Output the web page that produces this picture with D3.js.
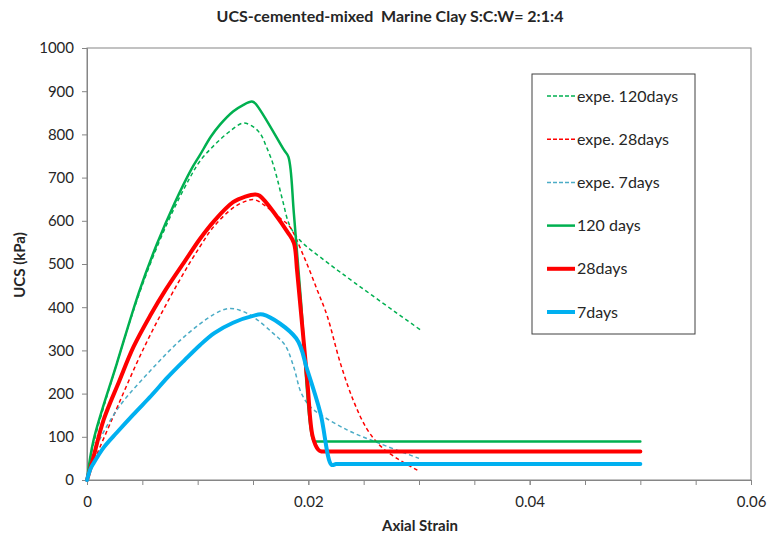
<!DOCTYPE html>
<html>
<head>
<meta charset="utf-8">
<script src="https://cdn.jsdelivr.net/npm/d3@7"></script>
<style>
  body { margin: 0; background: #fff; }
  text { font-family: Lato, "Open Sans", sans-serif; fill: #262626; }
</style>
</head>
<body>
<div id="chart-area"></div>
<script>
// series data: [axial strain, UCS kPa]
var expe120 = [[0,0],[0.0005,75],[0.0027,270],[0.0047,430],[0.0065,550],[0.0079,630],[0.0092,695],[0.0102,738],[0.0115,775],[0.0128,805],[0.0141,826],[0.015,818],[0.0157,800],[0.0162,772],[0.0167,740],[0.0171,706],[0.0177,645],[0.0183,590],[0.0192,556],[0.022,498],[0.0301,348]];
var expe28 = [[0,0],[0.0005,35],[0.0021,131],[0.0052,309],[0.0082,455],[0.0102,540],[0.0115,588],[0.0132,630],[0.0143,645],[0.0151,649],[0.0162,633],[0.0175,605],[0.0183,587],[0.0196,517],[0.0208,440],[0.0217,380],[0.0229,270],[0.0241,182],[0.0253,118],[0.0265,79],[0.028,50],[0.0299,22]];
var expe7 = [[0,0],[0.0006,62],[0.0027,162],[0.0058,255],[0.0088,332],[0.0115,384],[0.0128,397],[0.0138,393],[0.015,378],[0.0168,340],[0.0179,312],[0.0187,260],[0.0193,205],[0.0199,178],[0.0206,160],[0.0235,116],[0.0265,84],[0.0300,50]];
var d120 = [[0,0],[0.0006,93],[0.0027,270],[0.0047,435],[0.0063,545],[0.0079,640],[0.0094,718],[0.0102,752],[0.0112,795],[0.012,822],[0.0132,853],[0.0141,868],[0.0149,876],[0.0152,872],[0.0178,764],[0.0182,748],[0.0187,615],[0.0193,425],[0.0205,89],[0.0207,89],[0.025,89],[0.05,89]];
var d28 = [[0,0],[0.0005,45],[0.0015,139],[0.0029,228],[0.0042,308],[0.0057,380],[0.0071,440],[0.0088,505],[0.0102,558],[0.0115,600],[0.0132,643],[0.0143,656],[0.0152,661],[0.0156,658],[0.0182,571],[0.0187,548],[0.019,480],[0.0199,231],[0.0204,100],[0.0209,70],[0.0212,66],[0.0216,66],[0.025,66],[0.05,66]];
var d7 = [[0,0],[0.0003,25],[0.0006,39],[0.0015,75],[0.0027,110],[0.0042,152],[0.0058,195],[0.0073,238],[0.0088,277],[0.0102,312],[0.0115,340],[0.0132,364],[0.015,380],[0.0159,383],[0.0189,328],[0.0199,255],[0.0211,154],[0.0221,35],[0.0225,37],[0.0229,37],[0.026,37],[0.05,37]];

var seriesNames = ["expe. 120days", "expe. 28days", "expe. 7days", "120 days", "28days", "7days"];
var seriesColors = ["#00B050", "#FF0000", "#4BACC6", "#00B050", "#FF0000", "#00B0F0"];
var seriesData = [expe120, expe28, expe7, d120, d28, d7];
var dashed = [true, true, true, false, false, false];
var widths = [1.5, 1.5, 1.5, 2.5, 4, 4];

var xTicks = [0, 0.02, 0.04, 0.06];
var yTicks = [0, 100, 200, 300, 400, 500, 600, 700, 800, 900, 1000];

(function () {
    var width = 767, height = 536;
    var mLeft = 87, mRight = 751, mTop = 48, mBottom = 480;

    var svg = d3.select("#chart-area").append("svg")
        .attr("width", width)
        .attr("height", height);

    var x = d3.scaleLinear().domain([0, 0.06]).range([mLeft, mRight]);
    var y = d3.scaleLinear().domain([0, 1000]).range([mBottom, mTop]);

    // plot frame
    svg.append("rect")
        .attr("x", mLeft).attr("y", mTop)
        .attr("width", mRight - mLeft).attr("height", mBottom - mTop)
        .attr("fill", "none")
        .attr("stroke", "#868686")
        .attr("stroke-width", 1);

    // minor x ticks
    svg.append("g")
        .attr("transform", "translate(0," + mBottom + ")")
        .call(d3.axisBottom(x).tickValues(d3.range(0, 0.0601, 0.005)).tickSize(5).tickFormat(""))
        .call(function (g) {
            g.select(".domain").attr("stroke", "#868686");
            g.selectAll("line").attr("stroke", "#868686");
        });

    var xAxis = svg.append("g")
        .attr("transform", "translate(0," + mBottom + ")")
        .call(d3.axisBottom(x).tickValues(xTicks).tickSize(5).tickPadding(11)
            .tickFormat(function (d) { return d === 0 ? "0" : d3.format(".2f")(d); }));
    xAxis.select(".domain").remove();
    xAxis.selectAll("line").attr("stroke", "#868686");
    xAxis.selectAll("text").style("font-size", "15px").attr("fill", "#262626")
        .style("font-family", "Lato, 'Open Sans', sans-serif");

    var yAxis = svg.append("g")
        .attr("transform", "translate(" + mLeft + ",0)")
        .call(d3.axisLeft(y).tickValues(yTicks).tickSize(5).tickPadding(8).tickFormat(d3.format("d")));
    yAxis.select(".domain").attr("stroke", "#868686");
    yAxis.selectAll("line").attr("stroke", "#868686");
    yAxis.selectAll("text").style("font-size", "15px").attr("fill", "#262626")
        .style("font-family", "Lato, 'Open Sans', sans-serif");

    var line = d3.line()
        .x(function (d) { return x(d[0]); })
        .y(function (d) { return y(d[1]); })
        .curve(d3.curveCatmullRom.alpha(0.5));

    seriesData.forEach(function (data, i) {
        svg.append("path")
            .datum(data)
            .attr("d", line)
            .attr("fill", "none")
            .attr("stroke", seriesColors[i])
            .attr("stroke-width", widths[i])
            .attr("stroke-linejoin", "round")
            .attr("stroke-linecap", dashed[i] ? "butt" : "round")
            .attr("stroke-dasharray", dashed[i] ? "4,3" : null);
    });

    // legend
    var legend = svg.append("g");
    legend.append("rect")
        .attr("x", 532).attr("y", 74)
        .attr("width", 163).attr("height", 260)
        .attr("fill", "#fff")
        .attr("stroke", "#404040")
        .attr("stroke-width", 1);

    seriesNames.forEach(function (name, i) {
        var ly = 96 + i * 43.2;
        legend.append("line")
            .attr("x1", 547).attr("x2", 575)
            .attr("y1", ly).attr("y2", ly)
            .attr("stroke", seriesColors[i])
            .attr("stroke-width", dashed[i] ? 1.5 : widths[i])
            .attr("stroke-dasharray", dashed[i] ? "4,2" : null);
        legend.append("text")
            .attr("x", 577).attr("y", ly + 5.5)
            .style("font-size", "16px")
            .text(name);
    });

    svg.append("text")
        .attr("x", 390).attr("y", 22)
        .attr("text-anchor", "middle")
        .style("font-size", "16px")
        .style("font-weight", "bold")
        .style("white-space", "pre")
        .text("UCS-cemented-mixed  Marine Clay S:C:W= 2:1:4");

    svg.append("text")
        .attr("transform", "translate(25,265) rotate(-90)")
        .attr("text-anchor", "middle")
        .style("font-size", "15px")
        .style("font-weight", "bold")
        .text("UCS (kPa)");

    svg.append("text")
        .attr("x", 420).attr("y", 531)
        .attr("text-anchor", "middle")
        .style("font-size", "15px")
        .style("font-weight", "bold")
        .text("Axial Strain");
})();
</script>
</body>
</html>
